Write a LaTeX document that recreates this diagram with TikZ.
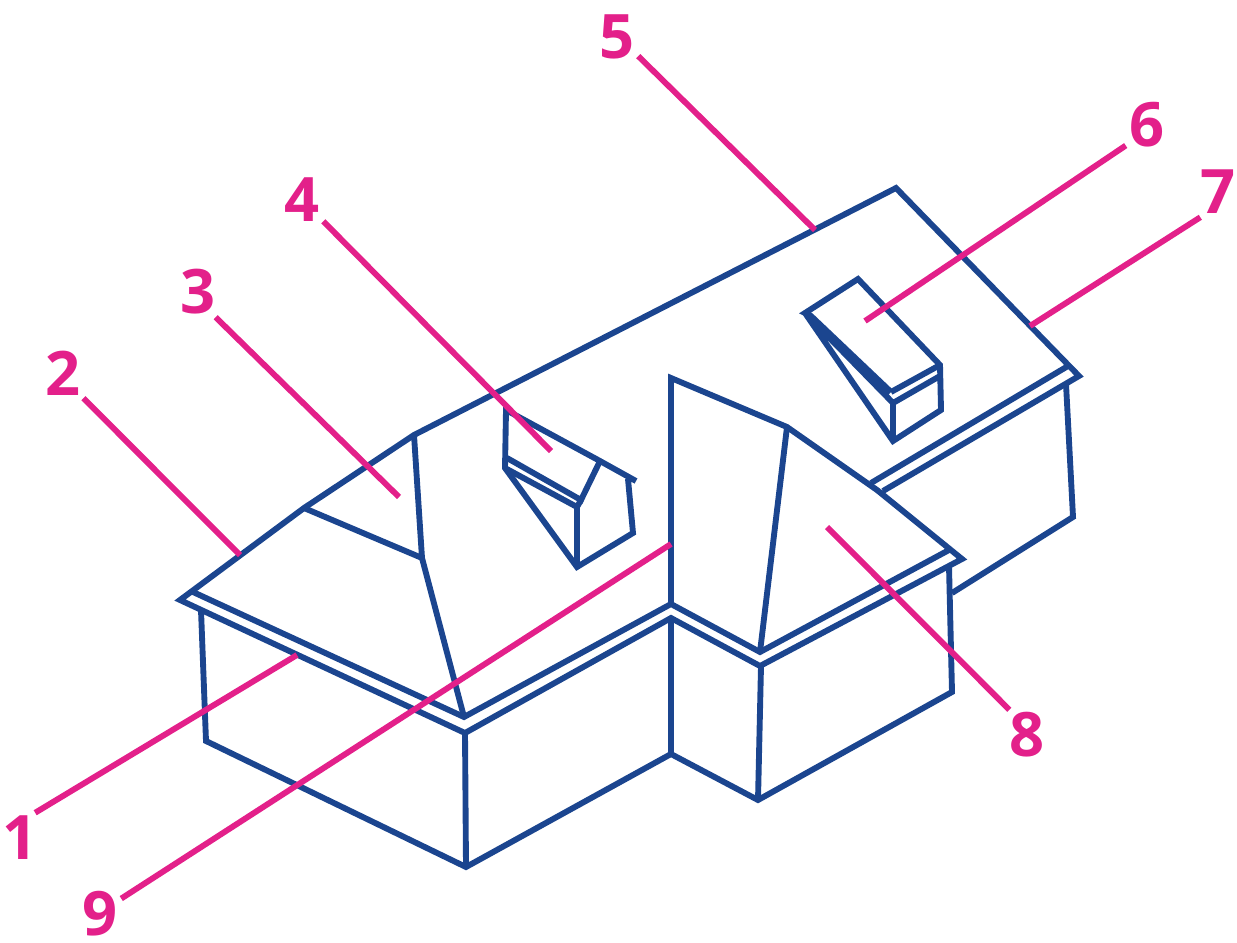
\documentclass[tikz,border=0pt]{standalone}
\usepackage{fontspec}
\setmainfont{Open Sans}
\definecolor{houseblue}{HTML}{1B458F}
\definecolor{leaderpink}{HTML}{E3208A}
\tikzset{
  house/.style={draw=houseblue,line width=4.4pt,line join=miter,miter limit=10},
  dormer/.style={draw=houseblue,line width=4.4pt,line join=miter,miter limit=3},
  leader/.style={draw=leaderpink,line width=4.4pt},
  numlabel/.style={text=leaderpink,inner sep=0pt,minimum width=31.5pt,minimum height=37.5pt,font=\fontsize{46}{46}\selectfont\bfseries}
}
\begin{document}
\begin{tikzpicture}[x=0.75pt,y=-0.75pt]
\useasboundingbox (0,0) rectangle (1237,942);
% main roof outline
\draw[house] (883,491) -- (1079,376) -- (896,188) -- (414,435) -- (304,508) -- (180,600) -- (465,733) -- (671,618) -- (760,666) -- (962,559) -- (877,490) -- (787,427) -- (671,378) -- (671,604);
% upper fascia edges
\draw[house] (193,592) -- (464,717) -- (671,604) -- (760,652) -- (949,550);
\draw[house] (871,483) -- (1068,366);
% roof ridges
\draw[house] (787,427) -- (760,652);
\draw[house] (414,435) -- (422,558) -- (464,717);
\draw[house] (304,508) -- (422,558);
% walls
\draw[house] (201,610) -- (206,741) -- (466,867) -- (671,754) -- (758,800) -- (952,692) -- (949,566);
\draw[house] (465,733) -- (466,867);
\draw[house] (671,618) -- (671,754);
\draw[house] (761,666) -- (758,800);
\draw[house] (952,593) -- (1073,517) -- (1066,384);
% left dormer
\draw[dormer] (636,481) -- (600,461) -- (506,410) -- (505,468) -- (577,567) -- (633,533) -- (628,479);
\draw[dormer] (507,458) -- (581,500) -- (600,461);
\draw[dormer] (505,468) -- (577,507) -- (581,500);
\draw[dormer] (577,507) -- (577,567);
% right dormer
\draw[dormer] (891,392) -- (811,316) -- (805,313) -- (858,279) -- (940,365) -- (941,410) -- (893,441) -- (805,313) -- (893,403) -- (940,376);
\draw[dormer] (891,392) -- (940,365);
\draw[dormer] (893,403) -- (893,441);
% labels and leaders
\node[numlabel] (l1) at (20,838) {1};
\node[numlabel] (l2) at (63,373) {2};
\node[numlabel] (l3) at (198,292) {3};
\node[numlabel] (l4) at (302,200) {4};
\node[numlabel] (l5) at (617,37) {5};
\node[numlabel] (l6) at (1147,125) {6};
\node[numlabel] (l7) at (1218,192) {7};
\node[numlabel] (l8) at (1027,735) {8};
\node[numlabel] (l9) at (100,914) {9};
\coordinate (e1) at (297,655);
\coordinate (e2) at (240,555);
\coordinate (e3) at (399,497);
\coordinate (e4) at (551,451);
\coordinate (e5) at (815,230);
\coordinate (e6) at (865,321);
\coordinate (e7) at (1030,326);
\coordinate (e8) at (827,527);
\coordinate (e9) at (671,544);
\draw[leader] (l1.59) -- (e1);
\draw[leader] (l2.-51) -- (e2);
\draw[leader] (l3.-55) -- (e3);
\draw[leader] (l4.-45) -- (e4);
\draw[leader] (l5.-42) -- (e5);
\draw[leader] (l6.-136) -- (e6);
\draw[leader] (l7.-125) -- (e7);
\draw[leader] (l8.125) -- (e8);
\draw[leader] (l9.36) -- (e9);
\end{tikzpicture}
\end{document}
